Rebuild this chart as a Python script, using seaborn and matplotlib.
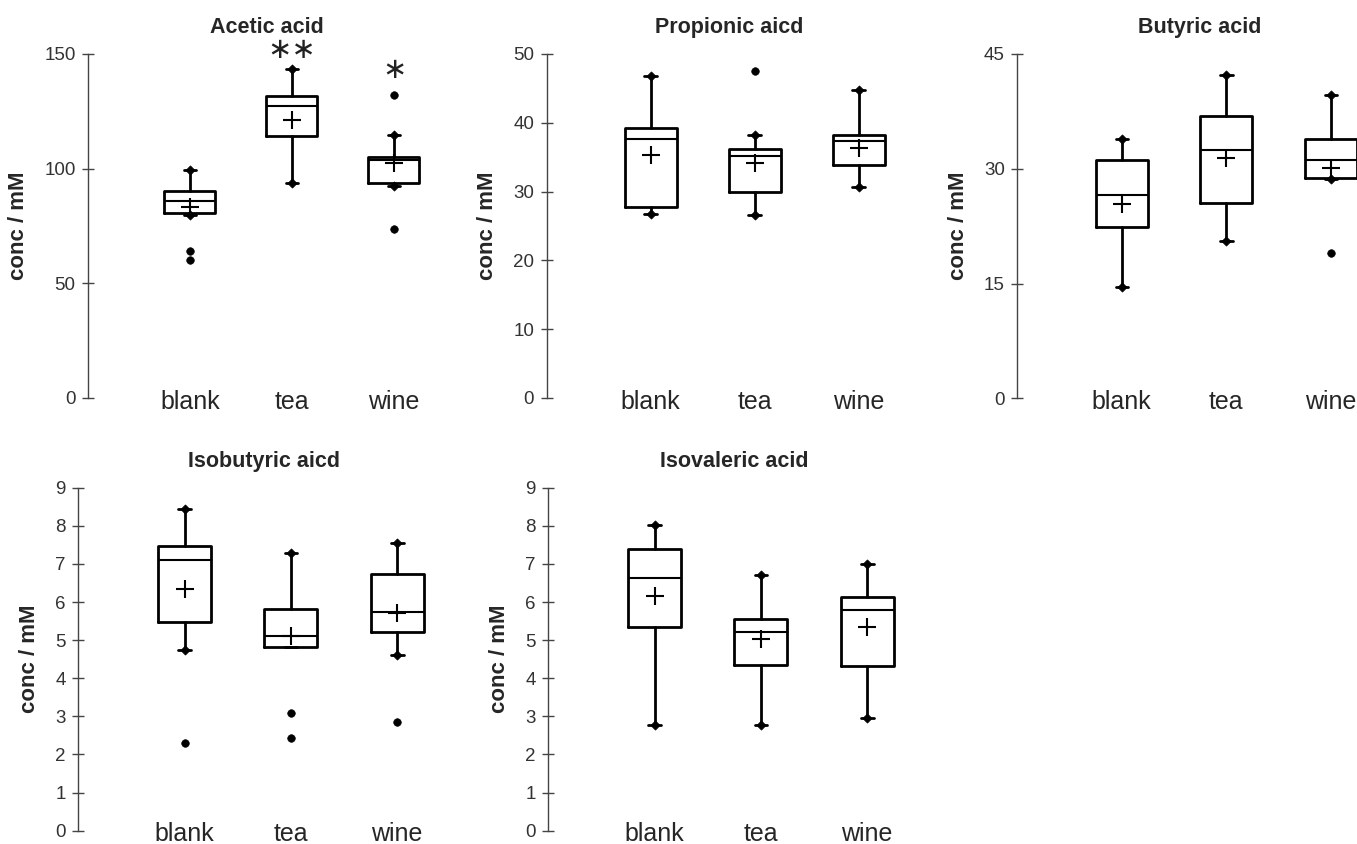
import numpy as np
import matplotlib
matplotlib.use("Agg")
import matplotlib.pyplot as plt
import seaborn as sns

sns.set_style("white")
plt.rcParams["font.family"] = ["Liberation Sans", "DejaVu Sans"]

groups = ["blank", "tea", "wine"]
acids = ["Acetic acid", "Propionic aicd", "Butyric acid", "Isobutyric aicd", "Isovaleric acid"]
y_max = [150, 50, 45, 9, 9]
y_step = [50, 10, 15, 1, 1]

# box statistics, one row per acid, columns blank / tea / wine
whisker_low = [[80.0, 93.9, 92.5], [26.8, 26.6, 30.6], [14.5, 20.5, 28.7], [4.74, 4.83, 4.62], [2.77, 2.77, 2.97]]
q1 = [[80.5, 114.2, 93.9], [27.8, 29.9, 33.8], [22.4, 25.5, 28.8], [5.47, 4.83, 5.21], [5.35, 4.36, 4.33]]
median = [[85.8, 127.3, 103.8], [37.7, 35.2, 37.4], [26.6, 32.4, 31.2], [7.10, 5.12, 5.75], [6.63, 5.21, 5.79]]
q3 = [[90.3, 131.5, 105.2], [39.3, 36.2, 38.2], [31.1, 36.9, 33.9], [7.47, 5.83, 6.74], [7.39, 5.56, 6.14]]
whisker_high = [[99.6, 143.3, 114.5], [46.8, 38.2, 44.7], [33.9, 42.2, 39.6], [8.45, 7.29, 7.54], [8.02, 6.70, 7.00]]
means = [[83.1, 121.2, 102.3], [35.3, 34.1, 36.3], [25.4, 31.4, 30.1], [6.33, 5.10, 5.72], [6.17, 5.02, 5.35]]
outliers = [[[64.2, 60.2], [], [132.1, 73.8]],
            [[], [47.5], []],
            [[], [], [19.0]],
            [[2.29], [3.10, 2.42], [2.86]],
            [[], [], []]]

# significance marks (acetic acid only)
star_text = ["∗∗", "∗"]
star_group = [1, 2]
star_y = [151.8, 143.0]

# layout in pixels (figure is 1357 x 844)
W, H = 1357, 844
left_px = [88, 546.7, 1017.3, 78.3, 548.3]
bottom_px = [398, 398, 398.3, 830.7, 830.7]
top_px = [54, 54, 54, 487.7, 487.7]
px_per_cat = [102, 104, 104.5, 106.3, 106.3]

fig = plt.figure(figsize=(W / 100, H / 100), dpi=100)

for i, acid in enumerate(acids):
    s = px_per_cat[i]
    ax = fig.add_axes([left_px[i] / W, 1 - bottom_px[i] / H,
                       3.5 * s / W, (bottom_px[i] - top_px[i]) / H])

    stats = []
    for j, g in enumerate(groups):
        stats.append(dict(whislo=whisker_low[i][j], q1=q1[i][j], med=median[i][j],
                          q3=q3[i][j], whishi=whisker_high[i][j], fliers=[], label=g))
    ax.bxp(stats, positions=[0, 1, 2], widths=0.5, capwidths=0.12, showfliers=False,
           boxprops=dict(lw=2, color="black"),
           medianprops=dict(lw=1.5, color="black"),
           whiskerprops=dict(lw=2, color="black"),
           capprops=dict(lw=2, color="black"))

    # diamonds at whisker ends
    dx, dy = [], []
    for j in range(3):
        if whisker_low[i][j] < q1[i][j]:
            dx.append(j); dy.append(whisker_low[i][j])
        if whisker_high[i][j] > q3[i][j]:
            dx.append(j); dy.append(whisker_high[i][j])
    sns.scatterplot(x=dx, y=dy, marker="D", s=22, color="black", edgecolor="black",
                    linewidth=0.5, ax=ax, zorder=4)

    # means
    sns.scatterplot(x=[0, 1, 2], y=means[i], marker="+", s=150, color="black",
                    linewidth=1.5, ax=ax, zorder=5)

    # outliers
    ox = [j for j in range(3) for _ in outliers[i][j]]
    oy = [v for j in range(3) for v in outliers[i][j]]
    if oy:
        sns.scatterplot(x=ox, y=oy, marker="o", s=30, color="black", edgecolor="black",
                        ax=ax, zorder=4)

    if i == 0:
        for t, gx, sy in zip(star_text, star_group, star_y):
            ax.text(gx, sy, t, ha="center", va="center", fontsize=21,
                    family="DejaVu Sans", color="#222222")

    ax.set_xlim(-1, 2.5)
    ax.set_ylim(0, y_max[i])
    ax.set_yticks(np.arange(0, y_max[i] + y_step[i] / 2, y_step[i]))
    ax.set_xticks([0, 1, 2])
    ax.set_xticklabels(groups, fontsize=18)
    ax.tick_params(axis="x", length=0, pad=-6)
    ax.tick_params(axis="y", direction="inout", length=8, width=1, color="#444444",
                   labelsize=13.5, labelcolor="#333333", pad=5, left=True)
    for side in ["top", "right", "bottom"]:
        ax.spines[side].set_visible(False)
    ax.spines["left"].set_color("#444444")
    ax.spines["left"].set_linewidth(1)
    ax.set_title(acid, fontsize=15.5, fontweight="bold", pad=15)
    ax.set_ylabel("conc / mM", fontsize=16, fontweight="bold", labelpad=11)
    ax.set_xlabel("")
    ax.patch.set_alpha(0)

fig.savefig("out.png", dpi=100)
